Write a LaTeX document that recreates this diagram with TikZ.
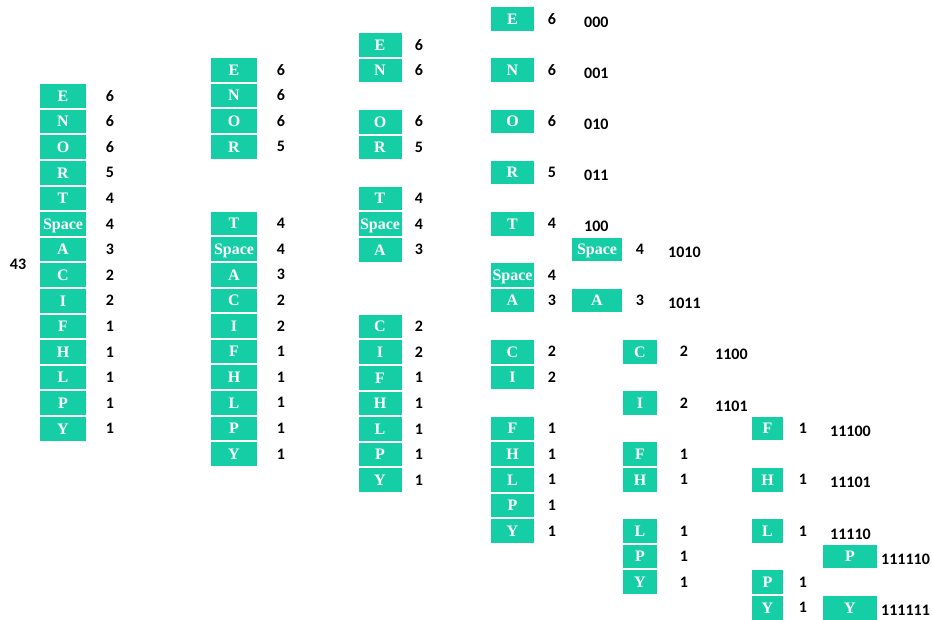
\documentclass[tikz,border=0pt]{standalone}
\usepackage{fontspec}
\setmainfont{Liberation Serif}
\newfontfamily\numfont{Carlito}
\definecolor{huffteal}{RGB}{22,206,166}
\begin{document}
\begin{tikzpicture}[
x=1pt, y=-1pt,
sym/.style={fill=huffteal, text=white, font=\fontsize{16}{18}\selectfont\bfseries, minimum height=23.5pt, inner sep=0pt, text height=10.5pt, text depth=0pt},
cnt/.style={font=\fontsize{16}{18}\selectfont\numfont\bfseries, inner sep=0pt, text height=10pt, text depth=0pt},
code/.style={cnt, anchor=west}
]
\useasboundingbox (0,0) rectangle (932,619);

% column 1
\foreach \l/\n/\k in {E/6/0, N/6/1, O/6/2, R/5/3, T/4/4, Space/4/5, A/3/6, C/2/7, I/2/8, F/1/9, H/1/10, L/1/11, P/1/12, Y/1/13}{
  \node[sym, minimum width=46pt] (s1-\l) at (63, {96+25.6*\k}) {\l};
  \node[cnt] (n1-\l) at (110, {96+25.6*\k}) {\n};
}
\node[cnt] (total) at (18, 264) {43};

% column 2
\foreach \l/\n/\k in {E/6/0, N/6/1, O/6/2, R/5/3, T/4/6, Space/4/7, A/3/8, C/2/9, I/2/10, F/1/11, H/1/12, L/1/13, P/1/14, Y/1/15}{
  \node[sym, minimum width=46pt] (s2-\l) at (234, {70+25.6*\k}) {\l};
  \node[cnt] (n2-\l) at (281, {70+25.6*\k}) {\n};
}

% column 3
\foreach \l/\n/\k in {E/6/0, N/6/1, O/6/3, R/5/4, T/4/6, Space/4/7, A/3/8, C/2/11, I/2/12, F/1/13, H/1/14, L/1/15, P/1/16, Y/1/17}{
  \node[sym, minimum width=43pt] (s3-\l) at (380, {45+25.6*\k}) {\l};
  \node[cnt] (n3-\l) at (419, {45+25.6*\k}) {\n};
}

% column 4
\foreach \l/\n/\k in {E/6/0, N/6/2, O/6/4, R/5/6, T/4/8, Space/4/10, A/3/11, C/2/13, I/2/14, F/1/16, H/1/17, L/1/18, P/1/19, Y/1/20}{
  \node[sym, minimum width=43pt] (s4-\l) at (512.5, {19+25.6*\k}) {\l};
  \node[cnt] (n4-\l) at (552, {19+25.6*\k}) {\n};
}

% column 5
\foreach \l/\n/\k in {Space/4/9, A/3/11}{
  \node[sym, minimum width=50pt] (s5-\l) at (597, {19+25.6*\k}) {\l};
  \node[cnt] (n5-\l) at (640, {19+25.6*\k}) {\n};
}

% column 6
\foreach \l/\n/\k in {C/2/13, I/2/15, F/1/17, H/1/18, L/1/20, P/1/21, Y/1/22}{
  \node[sym, minimum width=34pt] (s6-\l) at (640, {19+25.6*\k}) {\l};
  \node[cnt] (n6-\l) at (684, {19+25.6*\k}) {\n};
}

% column 7
\foreach \l/\n/\k in {F/1/16, H/1/18, L/1/20, P/1/22, Y/1/23}{
  \node[sym, minimum width=31pt] (s7-\l) at (767.5, {19+25.6*\k}) {\l};
  \node[cnt] (n7-\l) at (803, {19+25.6*\k}) {\n};
}

% column 8
\foreach \l/\k in {P/21, Y/23}{
  \node[sym, minimum width=54pt] (s8-\l) at (850, {19+25.6*\k}) {\l};
}

% codes
\foreach \l/\c/\k/\x in {E/000/0/584, N/001/2/584, O/010/4/584, R/011/6/584, T/100/8/584,
  Space/1010/9/668, A/1011/11/668, C/1100/13/715, I/1101/15/715,
  F/11100/16/830, H/11101/18/830, L/11110/20/830, P/111110/21/881, Y/111111/23/881}{
  \node[code] (code-\l) at (\x, {22+25.6*\k}) {\c};
}
\end{tikzpicture}
\end{document}
